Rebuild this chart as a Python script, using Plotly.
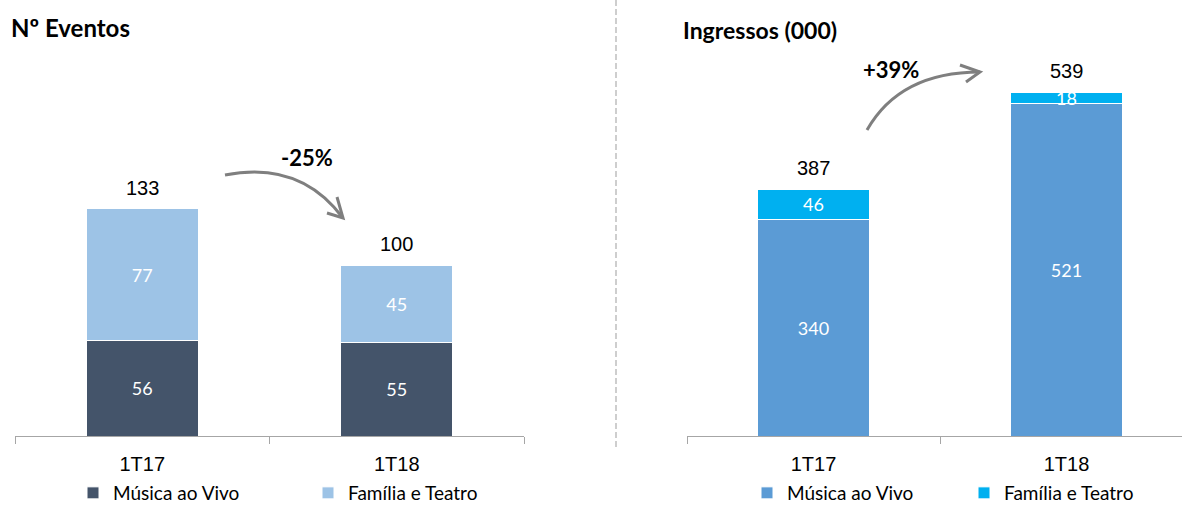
import plotly.graph_objects as go

W, H = 1182, 506

categories = ["1T17", "1T18"]
eventos_musica = [56, 55]
eventos_familia = [77, 45]
eventos_total = [133, 100]
ingressos_musica = [340, 521]
ingressos_familia = [46, 18]
ingressos_total = [387, 539]
var_eventos = "-25%"
var_ingressos = "+39%"

series_names = ["Música ao Vivo", "Família e Teatro"]
colors_left = ["#44546A", "#9DC3E6"]
colors_right = ["#5B9BD5", "#00B0F0"]

def px(x):
    return x / W

def py(y):
    return 1 - y / H

ARIAL = "Liberation Sans, Arial, sans-serif"
CAL = "Lato, Open Sans, sans-serif"

fig = go.Figure()

# Left chart
for vals, name, col in zip([eventos_musica, eventos_familia], series_names, colors_left):
    fig.add_trace(go.Bar(
        x=categories, y=vals, name=name, marker=dict(color=col, line=dict(color="white", width=1)),
        text=[str(v) for v in vals], textposition="inside", insidetextanchor="middle", textangle=0,
        constraintext="none", textfont=dict(color="white", size=18, family=CAL),
        width=0.44, xaxis="x", yaxis="y", legend="legend", hoverinfo="x+y+name"))

# Right chart
for vals, name, col in zip([ingressos_musica, ingressos_familia], series_names, colors_right):
    fig.add_trace(go.Bar(
        x=categories, y=vals, name=name, marker=dict(color=col, line=dict(color="white", width=1)),
        text=[str(v) for v in vals], textposition="inside", insidetextanchor="middle", textangle=0,
        constraintext="none", textfont=dict(color="white", size=18, family=CAL),
        width=0.44, xaxis="x2", yaxis="y2", legend="legend2", hoverinfo="x+y+name"))

annotations = []
for c, t in zip(categories, eventos_total):
    annotations.append(dict(x=c, y=t, xref="x", yref="y", text=str(t), showarrow=False,
                            yanchor="bottom", yshift=8, font=dict(size=20, family=ARIAL, color="black")))
for c, t in zip(categories, ingressos_total):
    annotations.append(dict(x=c, y=t, xref="x2", yref="y2", text=str(t), showarrow=False,
                            yanchor="bottom", yshift=8, font=dict(size=20, family=ARIAL, color="black")))

# titles
annotations.append(dict(x=px(9), y=py(27), xref="paper", yref="paper", text="<b>Nº Eventos</b>",
                        showarrow=False, xanchor="left", yanchor="middle",
                        font=dict(size=24, family=CAL, color="black")))
annotations.append(dict(x=px(681), y=py(30), xref="paper", yref="paper", text="<b>Ingressos (000)</b>",
                        showarrow=False, xanchor="left", yanchor="middle",
                        font=dict(size=23, family=CAL, color="black")))
# variation labels
annotations.append(dict(x=px(307), y=py(157), xref="paper", yref="paper", text="<b>" + var_eventos + "</b>",
                        showarrow=False, xanchor="center", yanchor="middle",
                        font=dict(size=22, family=CAL, color="black")))
annotations.append(dict(x=px(891), y=py(69), xref="paper", yref="paper", text="<b>" + var_ingressos + "</b>",
                        showarrow=False, xanchor="center", yanchor="middle",
                        font=dict(size=22, family=CAL, color="black")))

def P(x, y):
    return f"{px(x):.5f},{py(y):.5f}"

arrow_col = "#7f7f7f"
shapes = [
    # separator
    dict(type="line", xref="paper", yref="paper", x0=px(616), x1=px(616), y0=py(0), y1=py(448),
         line=dict(color="#bfbfbf", width=1.5, dash="6px,3px")),
    # left arrow
    dict(type="path", xref="paper", yref="paper",
         path=f"M {P(225,175)} Q {P(300,160)} {P(343,218)}", line=dict(color=arrow_col, width=3)),
    dict(type="path", xref="paper", yref="paper",
         path=f"M {P(337,197)} L {P(343,218)} L {P(327,213)}", line=dict(color=arrow_col, width=3)),
    # right arrow
    dict(type="path", xref="paper", yref="paper",
         path=f"M {P(867,130)} Q {P(900,72)} {P(980,72)}", line=dict(color=arrow_col, width=3)),
    dict(type="path", xref="paper", yref="paper",
         path=f"M {P(960,65)} L {P(980,72)} L {P(966,82)}", line=dict(color=arrow_col, width=3)),
]

base = 436
axis_common = dict(type="category", showline=True, linecolor="#a6a6a6", linewidth=1,
                   ticks="outside", tickson="boundaries", ticklen=7, tickcolor="#a6a6a6",
                   tickfont=dict(size=20, family=ARIAL, color="black"), showgrid=False,
                   zeroline=False, fixedrange=True, ticklabelstandoff=10)

fig.update_layout(
    width=W, height=H, margin=dict(l=0, r=0, t=0, b=0, autoexpand=False),
    paper_bgcolor="white", plot_bgcolor="white", barmode="stack", showlegend=True,
    uniformtext=dict(minsize=18, mode="show"),
    xaxis=dict(domain=[px(15), px(524)], range=[-0.5, 1.5], anchor="y", **axis_common),
    yaxis=dict(domain=[py(base), 1], range=[0, base / 1.707], visible=False, anchor="x"),
    xaxis2=dict(domain=[px(687), 1.0], range=[-0.5, -0.5 + 495 / 253], anchor="y2", **axis_common),
    yaxis2=dict(domain=[py(base), 1], range=[0, base / 0.6382], visible=False, anchor="x2"),
    legend=dict(orientation="h", x=px(73), xanchor="left", y=-6 / H, yanchor="bottom",
                font=dict(size=19, family=CAL, color="black"), entrywidth=190,
                bgcolor="rgba(0,0,0,0)", traceorder="normal"),
    legend2=dict(orientation="h", x=px(747), xanchor="left", y=-6 / H, yanchor="bottom",
                 font=dict(size=19, family=CAL, color="black"), entrywidth=172,
                 bgcolor="rgba(0,0,0,0)", traceorder="normal"),
    annotations=annotations, shapes=shapes,
)

post = (
    "document.documentElement.style.margin='0';"
    "document.documentElement.style.overflow='hidden';"
    "document.body.style.margin='0';"
    "document.body.style.overflow='hidden';"
)
fig.write_html("out.html", config={"displayModeBar": False}, post_script=post)
